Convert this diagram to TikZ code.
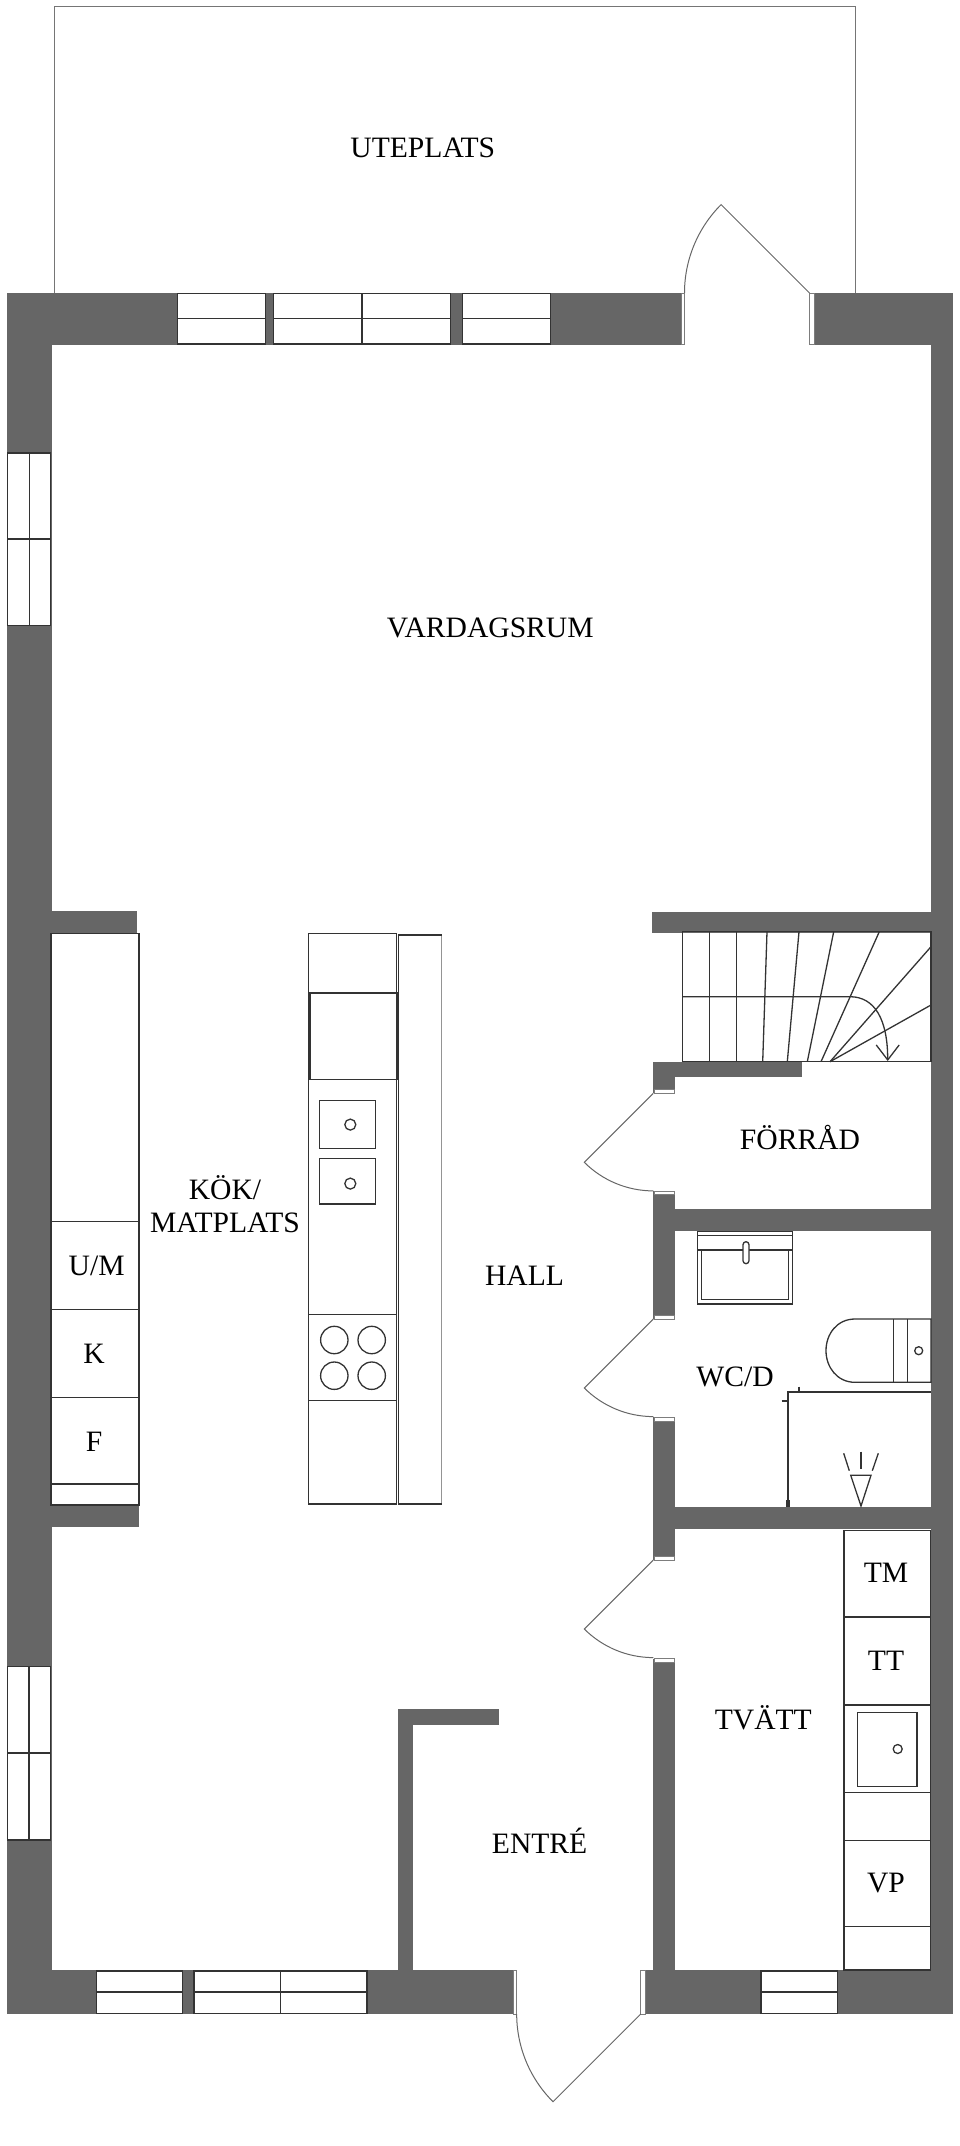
\documentclass[tikz,border=0pt]{standalone}
\usepackage{fontspec}
\setmainfont{Liberation Serif}
\usetikzlibrary{arrows.meta}
\definecolor{wallgray}{HTML}{666666}
\definecolor{inkgray}{HTML}{333333}
\tikzset{
    wall/.style={fill=wallgray},
    glass/.style={fill=white,draw=inkgray,line width=1.1pt},
    jamb/.style={fill=white,draw=wallgray!85,line width=1pt},
    doorline/.style={draw=wallgray,line width=1pt},
    fixture/.style={draw=inkgray,line width=1.3pt},
    roomlabel/.style={inner sep=0pt,text height=19.5pt,text depth=0pt,font=\fontsize{29.6}{32}\selectfont,align=center},
}
\begin{document}
\begin{tikzpicture}[x=1pt,y=-1pt]
    \useasboundingbox (0,0) rectangle (960,2146);

    % uteplats
    \draw[doorline,draw=wallgray!90] (54,293)--(54,7)--(855.5,7)--(855.5,293);

    % outer walls
    \fill[wall] (7,293) rectangle (681,344.5);
    \fill[wall] (814,293) rectangle (952.5,344.5);
    \fill[wall] (7,293) rectangle (51.5,2014);
    \fill[wall] (931,293) rectangle (952.5,2014);
    \fill[wall] (7,1970) rectangle (513,2014);
    \fill[wall] (645,1970) rectangle (952.5,2014);

    % inner walls
    \fill[wall] (51.5,911) rectangle (136.7,933.8);
    \fill[wall] (51.5,1505) rectangle (139,1527);
    \fill[wall] (652.3,911.7) rectangle (931,933.3);
    \fill[wall] (653.3,1062) rectangle (801.7,1076.7);
    \fill[wall] (653.3,1062) rectangle (675,1093.3);
    \fill[wall] (653.3,1191) rectangle (675,1319);
    \fill[wall] (653.3,1209) rectangle (931,1231);
    \fill[wall] (653.3,1417.3) rectangle (675,1560);
    \fill[wall] (653.3,1507.3) rectangle (931,1529);
    \fill[wall] (653.3,1658.5) rectangle (675,1970);
    \fill[wall] (397.5,1709.3) rectangle (412.5,1970);
    \fill[wall] (397.5,1709.3) rectangle (498.6,1724.7);

    % windows
    \draw[glass] (177.6,293.5) rectangle (265.8,318.4);
    \draw[glass] (177.6,318.4) rectangle (265.8,344);
    \draw[glass] (273.7,293.5) rectangle (362,318.4);
    \draw[glass] (273.7,318.4) rectangle (362,344);
    \draw[glass] (362,293.5) rectangle (450.7,318.4);
    \draw[glass] (362,318.4) rectangle (450.7,344);
    \draw[glass] (462.3,293.5) rectangle (550.5,318.4);
    \draw[glass] (462.3,318.4) rectangle (550.5,344);
    \draw[glass] (7.5,453) rectangle (29.4,539);
    \draw[glass] (29.4,453) rectangle (50.5,539);
    \draw[glass] (7.5,539) rectangle (29.4,625.7);
    \draw[glass] (29.4,539) rectangle (50.5,625.7);
    \draw[glass] (7.9,1666.7) rectangle (29,1753);
    \draw[glass] (29,1666.7) rectangle (50.7,1753);
    \draw[glass] (7.9,1753) rectangle (29,1840);
    \draw[glass] (29,1753) rectangle (50.7,1840);
    \draw[glass] (96.8,1971) rectangle (182.9,1992);
    \draw[glass] (96.8,1992) rectangle (182.9,2013.5);
    \draw[glass] (194,1971) rectangle (280.4,1992);
    \draw[glass] (194,1992) rectangle (280.4,2013.5);
    \draw[glass] (280.4,1971) rectangle (367,1992);
    \draw[glass] (280.4,1992) rectangle (367,2013.5);
    \draw[glass] (761,1971) rectangle (837.7,1992);
    \draw[glass] (761,1992) rectangle (837.7,2013.5);

    % door jambs
    \draw[jamb] (681,293) rectangle (684.6,344.5);
    \draw[jamb] (809.5,293) rectangle (814,344.5);
    \draw[jamb] (513,1970) rectangle (516.8,2014);
    \draw[jamb] (640.7,1970) rectangle (645,2014);
    \draw[jamb] (654,1089.5) rectangle (674.5,1093.3);
    \draw[jamb] (654,1191) rectangle (674.5,1194.8);
    \draw[jamb] (654,1315.2) rectangle (674.5,1319);
    \draw[jamb] (654,1417.3) rectangle (674.5,1421);
    \draw[jamb] (654,1556.2) rectangle (674.5,1560);
    \draw[jamb] (654,1658.5) rectangle (674.5,1662.2);

    % doors
    \coordinate (garden hinge) at (809.5,293);
    \coordinate (entry hinge) at (640.7,2014);
    \coordinate (store hinge) at (653.3,1093.3);
    \coordinate (wc hinge) at (653.3,1319);
    \coordinate (wash hinge) at (653.3,1560);
    \draw[doorline] (garden hinge)--++(-88.4,-88.4) arc[start angle=225,end angle=180,radius=125];
    \draw[doorline] (entry hinge)--++(-87.7,87.7) arc[start angle=135,end angle=180,radius=124];
    \draw[doorline] (store hinge)--++(-69,69) arc[start angle=135,end angle=90,radius=97.6];
    \draw[doorline] (wc hinge)--++(-69,69) arc[start angle=135,end angle=90,radius=97.6];
    \draw[doorline] (wash hinge)--++(-69,69) arc[start angle=135,end angle=90,radius=97.6];

    % kitchen wall units
    \draw[fixture] (51,933.8) rectangle (139,1505);
    \draw[fixture] (51,1221.3)--(139,1221.3);
    \draw[fixture] (51,1309.3)--(139,1309.3);
    \draw[fixture] (51,1397.3)--(139,1397.3);
    \draw[fixture] (51,1484)--(139,1484);

    % island
    \draw[fixture] (308.3,933.8) rectangle (396.7,1504);
    \draw[fixture,line width=1.7pt] (310.3,992.7) rectangle (396.7,1079.5);
    \draw[fixture] (319.3,1100.3) rectangle (375.7,1148.4);
    \draw[fixture] (319.3,1158.4) rectangle (375.7,1204);
    \draw[fixture] (350.3,1124.6) circle (5.5);
    \draw[fixture] (350.3,1183.6) circle (5.5);
    \draw[fixture] (308.3,1314.5)--(396.7,1314.5);
    \draw[fixture] (308.3,1400.8)--(396.7,1400.8);
    \draw[fixture] (334.3,1340) circle (13.7);
    \draw[fixture] (371.7,1340) circle (13.7);
    \draw[fixture] (334.3,1375.7) circle (13.7);
    \draw[fixture] (371.7,1375.7) circle (13.7);
    \draw[draw=wallgray!70,line width=1pt] (441.7,934.6)--(441.7,1503.6);
    \draw[fixture,line width=2pt] (398.3,934.6)--(441.7,934.6);
    \draw[fixture,line width=2pt] (398.3,1503.6)--(441.7,1503.6);
    \draw[fixture] (398.3,934.6)--(398.3,1503.6);

    % stairs
    \draw[fixture] (682.3,931.7) rectangle (931,1061.7);
    \draw[fixture] (709.7,931.7)--(709.7,1061.7);
    \draw[fixture] (736.3,931.7)--(736.3,1061.7);
    \draw[fixture] (767,931.7)--(762.7,1061.7);
    \draw[fixture] (799,931.7)--(787.3,1061.7);
    \draw[fixture] (833.7,931.7)--(807.3,1061.7);
    \draw[fixture] (879.3,931.7)--(821,1061.7);
    \draw[fixture] (931,946.7)--(830,1061.7);
    \draw[fixture] (931,1005)--(830,1061.7);
    \draw[fixture,-{Straight Barb[length=15pt,width=23pt]}] (682.3,996.7)--(850,996.7) .. controls (875,996.7) and (887.7,1020) .. (887.7,1061);

    % wc
    \draw[fixture] (697.3,1231.7) rectangle (792.7,1304);
    \draw[fixture] (697.3,1235.7)--(792.7,1235.7);
    \draw[fixture] (697.3,1250)--(792.7,1250);
    \draw[fixture] (701.7,1250)--(701.7,1299.3)--(788.7,1299.3)--(788.7,1250);
    \draw[fixture,fill=white,rounded corners=3pt] (743,1241.7) rectangle (749,1263.7);
    \draw[fixture] (931,1319)--(855,1319) .. controls (837,1319) and (826,1334) .. (826,1350.7) .. controls (826,1367) and (837,1382.3) .. (855,1382.3)--(931,1382.3)--cycle;
    \draw[fixture] (893.3,1319)--(893.3,1382.3);
    \draw[fixture] (907.7,1319)--(907.7,1382.3);
    \draw[fixture] (918.7,1350.7) circle (4);

    % shower
    \draw[fixture] (931,1392)--(788,1392)--(788,1507);
    \draw[fixture,line width=2.5pt] (922,1392)--(931,1392);
    \draw[fixture,line width=2.5pt] (799,1386.7)--(799,1392);
    \draw[fixture,line width=2.5pt] (781.7,1401)--(788,1401);
    \draw[fixture,line width=3.5pt] (788,1500)--(788,1507);
    \draw[fixture] (850.7,1475.3)--(871,1475.3)--(861,1506)--cycle;
    \draw[fixture] (843.7,1453.3)--(849.3,1470.7);
    \draw[fixture] (861,1451.7)--(861,1469.3);
    \draw[fixture] (878.3,1453.3)--(872.3,1470.7);

    % laundry units
    \draw[fixture] (844,1530.4) rectangle (930.3,1970);
    \draw[fixture,line width=1.7pt] (844,1617)--(930.3,1617);
    \draw[fixture,line width=1.7pt] (844,1705.2)--(930.3,1705.2);
    \draw[fixture] (844,1792.7)--(930.3,1792.7);
    \draw[fixture] (844,1840.2)--(930.3,1840.2);
    \draw[fixture] (844,1926.8)--(930.3,1926.8);
    \draw[fixture] (857.7,1712.4) rectangle (917,1786.3);
    \draw[fixture] (897.7,1749) circle (4.5);

    % labels
    \node[roomlabel] (uteplats) at (422.8,147.8) {UTEPLATS};
    \node[roomlabel] (vardagsrum) at (490.3,628) {VARDAGSRUM};
    \node[roomlabel] (kok) at (225,1190) {KÖK/};
    \node[roomlabel] (matplats) at (225,1222.6) {MATPLATS};
    \node[roomlabel] (um) at (96.7,1266) {U/M};
    \node[roomlabel] (k) at (94,1353.5) {K};
    \node[roomlabel] (f) at (94,1441.6) {F};
    \node[roomlabel] (hall) at (524.5,1275.5) {HALL};
    \node[roomlabel] (forrad) at (800,1140) {FÖRRÅD};
    \node[roomlabel] (wcd) at (735,1376.7) {WC/D};
    \node[roomlabel] (tm) at (886,1573) {TM};
    \node[roomlabel] (tt) at (886,1660.5) {TT};
    \node[roomlabel] (tvatt) at (763.3,1719.6) {TVÄTT};
    \node[roomlabel] (entre) at (539.6,1843.5) {ENTRÉ};
    \node[roomlabel] (vp) at (886,1883) {VP};
\end{tikzpicture}
\end{document}
